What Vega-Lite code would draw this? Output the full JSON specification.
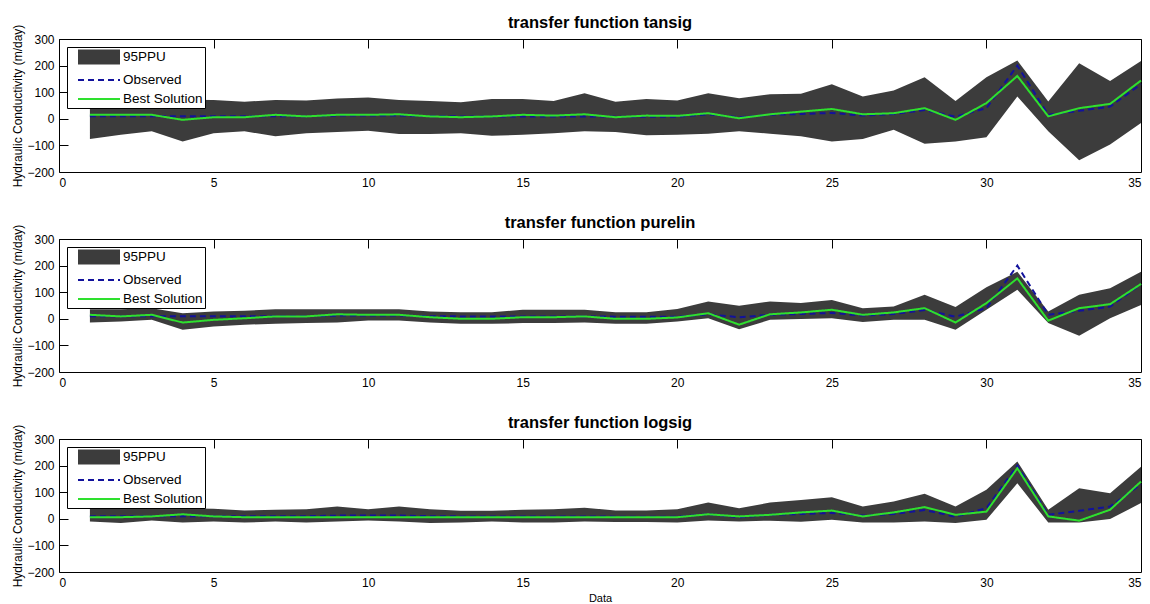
{
  "$schema": "https://vega.github.io/schema/vega-lite/v6.json",
  "background": "white",
  "padding": {"left": 11, "top": 14, "right": 4, "bottom": 0},
  "bounds": "flush",
  "spacing": 67,
  "config": {
    "font": "Liberation Sans",
    "view": {"stroke": "black", "strokeWidth": 1},
    "axis": {"grid": true, "gridColor": "black", "gridOpacity": 1, "gridWidth": 1, "gridDash": [9, 2000], "domain": false, "ticks": false, "tickSize": 0, "zindex": 0, "labelFontSize": 12, "labelColor": "black", "titleFontSize": 12, "titleFontWeight": "normal", "titleColor": "black", "labelPadding": 5, "titlePadding": 2},
    "title": {"fontSize": 16.5, "fontWeight": "bold", "color": "black", "offset": -7},
    "legend": {"orient": "top-left", "offset": 8, "strokeColor": "black", "fillColor": "white", "padding": 2, "labelFontSize": 13.5, "labelColor": "black", "symbolSize": 196, "symbolStrokeWidth": 2, "rowPadding": 4, "symbolOffset": 22, "labelOffset": 16, "cornerRadius": 0}
  },
  "datasets": {
    "d": [
      {"p":"tansig","x":1,"lo":-76,"hi":70,"obs":10,"best":15},
      {"p":"tansig","x":2,"lo":-60,"hi":68,"obs":10,"best":15},
      {"p":"tansig","x":3,"lo":-47,"hi":70,"obs":10,"best":15},
      {"p":"tansig","x":4,"lo":-85,"hi":72,"obs":10,"best":-4},
      {"p":"tansig","x":5,"lo":-54,"hi":71,"obs":10,"best":6},
      {"p":"tansig","x":6,"lo":-47,"hi":64,"obs":10,"best":6},
      {"p":"tansig","x":7,"lo":-66,"hi":71,"obs":10,"best":15},
      {"p":"tansig","x":8,"lo":-54,"hi":69,"obs":10,"best":9},
      {"p":"tansig","x":9,"lo":-50,"hi":76,"obs":12,"best":15},
      {"p":"tansig","x":10,"lo":-45,"hi":80,"obs":12,"best":15},
      {"p":"tansig","x":11,"lo":-57,"hi":71,"obs":12,"best":17},
      {"p":"tansig","x":12,"lo":-57,"hi":67,"obs":10,"best":9},
      {"p":"tansig","x":13,"lo":-54,"hi":62,"obs":9,"best":6},
      {"p":"tansig","x":14,"lo":-64,"hi":74,"obs":9,"best":9},
      {"p":"tansig","x":15,"lo":-60,"hi":74,"obs":9,"best":15},
      {"p":"tansig","x":16,"lo":-54,"hi":67,"obs":9,"best":12},
      {"p":"tansig","x":17,"lo":-47,"hi":96,"obs":9,"best":17},
      {"p":"tansig","x":18,"lo":-50,"hi":64,"obs":8,"best":6},
      {"p":"tansig","x":19,"lo":-62,"hi":74,"obs":8,"best":12},
      {"p":"tansig","x":20,"lo":-60,"hi":69,"obs":8,"best":11},
      {"p":"tansig","x":21,"lo":-56,"hi":96,"obs":17,"best":21},
      {"p":"tansig","x":22,"lo":-47,"hi":77,"obs":6,"best":2},
      {"p":"tansig","x":23,"lo":-56,"hi":92,"obs":15,"best":17},
      {"p":"tansig","x":24,"lo":-66,"hi":94,"obs":18,"best":27},
      {"p":"tansig","x":25,"lo":-85,"hi":130,"obs":22,"best":37},
      {"p":"tansig","x":26,"lo":-76,"hi":84,"obs":12,"best":17},
      {"p":"tansig","x":27,"lo":-41,"hi":106,"obs":18,"best":21},
      {"p":"tansig","x":28,"lo":-94,"hi":156,"obs":33,"best":40},
      {"p":"tansig","x":29,"lo":-85,"hi":67,"obs":8,"best":-4},
      {"p":"tansig","x":30,"lo":-69,"hi":156,"obs":40,"best":59},
      {"p":"tansig","x":31,"lo":84,"hi":219,"obs":200,"best":161},
      {"p":"tansig","x":32,"lo":-47,"hi":65,"obs":15,"best":9},
      {"p":"tansig","x":33,"lo":-156,"hi":209,"obs":30,"best":40},
      {"p":"tansig","x":34,"lo":-97,"hi":142,"obs":46,"best":56},
      {"p":"tansig","x":35,"lo":-16,"hi":217,"obs":130,"best":144},
      {"p":"purelin","x":1,"lo":-14,"hi":36,"obs":10,"best":15},
      {"p":"purelin","x":2,"lo":-10,"hi":36,"obs":10,"best":9},
      {"p":"purelin","x":3,"lo":-4,"hi":40,"obs":10,"best":15},
      {"p":"purelin","x":4,"lo":-41,"hi":21,"obs":10,"best":-14},
      {"p":"purelin","x":5,"lo":-29,"hi":27,"obs":10,"best":-4},
      {"p":"purelin","x":6,"lo":-22,"hi":30,"obs":10,"best":2},
      {"p":"purelin","x":7,"lo":-19,"hi":36,"obs":10,"best":9},
      {"p":"purelin","x":8,"lo":-16,"hi":36,"obs":10,"best":9},
      {"p":"purelin","x":9,"lo":-14,"hi":36,"obs":12,"best":17},
      {"p":"purelin","x":10,"lo":-6,"hi":36,"obs":12,"best":15},
      {"p":"purelin","x":11,"lo":-6,"hi":36,"obs":12,"best":15},
      {"p":"purelin","x":12,"lo":-14,"hi":27,"obs":10,"best":6},
      {"p":"purelin","x":13,"lo":-19,"hi":25,"obs":9,"best":0},
      {"p":"purelin","x":14,"lo":-19,"hi":25,"obs":9,"best":0},
      {"p":"purelin","x":15,"lo":-16,"hi":34,"obs":9,"best":6},
      {"p":"purelin","x":16,"lo":-16,"hi":34,"obs":9,"best":6},
      {"p":"purelin","x":17,"lo":-14,"hi":34,"obs":9,"best":9},
      {"p":"purelin","x":18,"lo":-19,"hi":25,"obs":8,"best":0},
      {"p":"purelin","x":19,"lo":-19,"hi":25,"obs":8,"best":0},
      {"p":"purelin","x":20,"lo":-10,"hi":37,"obs":8,"best":5},
      {"p":"purelin","x":21,"lo":2,"hi":65,"obs":17,"best":21},
      {"p":"purelin","x":22,"lo":-39,"hi":49,"obs":6,"best":-22},
      {"p":"purelin","x":23,"lo":-4,"hi":65,"obs":15,"best":17},
      {"p":"purelin","x":24,"lo":-1,"hi":59,"obs":18,"best":24},
      {"p":"purelin","x":25,"lo":2,"hi":71,"obs":22,"best":34},
      {"p":"purelin","x":26,"lo":-12,"hi":40,"obs":12,"best":15},
      {"p":"purelin","x":27,"lo":-4,"hi":46,"obs":18,"best":24},
      {"p":"purelin","x":28,"lo":-4,"hi":90,"obs":33,"best":40},
      {"p":"purelin","x":29,"lo":-41,"hi":44,"obs":8,"best":-14},
      {"p":"purelin","x":30,"lo":34,"hi":119,"obs":40,"best":59},
      {"p":"purelin","x":31,"lo":109,"hi":177,"obs":200,"best":152},
      {"p":"purelin","x":32,"lo":-16,"hi":27,"obs":15,"best":-7},
      {"p":"purelin","x":33,"lo":-64,"hi":90,"obs":30,"best":40},
      {"p":"purelin","x":34,"lo":2,"hi":115,"obs":46,"best":55},
      {"p":"purelin","x":35,"lo":52,"hi":177,"obs":130,"best":131},
      {"p":"logsig","x":1,"lo":-10,"hi":38,"obs":10,"best":6},
      {"p":"logsig","x":2,"lo":-16,"hi":40,"obs":10,"best":6},
      {"p":"logsig","x":3,"lo":-6,"hi":40,"obs":10,"best":9},
      {"p":"logsig","x":4,"lo":-14,"hi":40,"obs":10,"best":17},
      {"p":"logsig","x":5,"lo":-10,"hi":38,"obs":10,"best":9},
      {"p":"logsig","x":6,"lo":-14,"hi":31,"obs":10,"best":6},
      {"p":"logsig","x":7,"lo":-10,"hi":34,"obs":10,"best":6},
      {"p":"logsig","x":8,"lo":-14,"hi":36,"obs":10,"best":6},
      {"p":"logsig","x":9,"lo":-10,"hi":46,"obs":12,"best":6},
      {"p":"logsig","x":10,"lo":-6,"hi":36,"obs":12,"best":6},
      {"p":"logsig","x":11,"lo":-10,"hi":46,"obs":12,"best":6},
      {"p":"logsig","x":12,"lo":-16,"hi":36,"obs":10,"best":6},
      {"p":"logsig","x":13,"lo":-14,"hi":30,"obs":9,"best":6},
      {"p":"logsig","x":14,"lo":-10,"hi":30,"obs":9,"best":6},
      {"p":"logsig","x":15,"lo":-14,"hi":34,"obs":9,"best":6},
      {"p":"logsig","x":16,"lo":-14,"hi":36,"obs":9,"best":6},
      {"p":"logsig","x":17,"lo":-10,"hi":42,"obs":9,"best":6},
      {"p":"logsig","x":18,"lo":-12,"hi":31,"obs":8,"best":6},
      {"p":"logsig","x":19,"lo":-12,"hi":31,"obs":8,"best":6},
      {"p":"logsig","x":20,"lo":-14,"hi":36,"obs":8,"best":6},
      {"p":"logsig","x":21,"lo":-6,"hi":61,"obs":17,"best":17},
      {"p":"logsig","x":22,"lo":-10,"hi":40,"obs":6,"best":9},
      {"p":"logsig","x":23,"lo":-7,"hi":61,"obs":15,"best":15},
      {"p":"logsig","x":24,"lo":-11,"hi":71,"obs":18,"best":24},
      {"p":"logsig","x":25,"lo":-4,"hi":81,"obs":22,"best":31},
      {"p":"logsig","x":26,"lo":-14,"hi":46,"obs":12,"best":9},
      {"p":"logsig","x":27,"lo":-14,"hi":65,"obs":18,"best":24},
      {"p":"logsig","x":28,"lo":-10,"hi":94,"obs":33,"best":44},
      {"p":"logsig","x":29,"lo":-16,"hi":46,"obs":8,"best":15},
      {"p":"logsig","x":30,"lo":-4,"hi":109,"obs":40,"best":27},
      {"p":"logsig","x":31,"lo":134,"hi":215,"obs":200,"best":190},
      {"p":"logsig","x":32,"lo":-14,"hi":34,"obs":15,"best":9},
      {"p":"logsig","x":33,"lo":-14,"hi":115,"obs":30,"best":-7},
      {"p":"logsig","x":34,"lo":-1,"hi":96,"obs":46,"best":34},
      {"p":"logsig","x":35,"lo":59,"hi":196,"obs":130,"best":140}
    ]
  },
  "vconcat": [
    {
      "width": 1082, "height": 133,
      "title": "transfer function tansig",
      "data": {"name": "d"},
      "transform": [{"filter": "datum.p == 'tansig'"}],
      "resolve": {"axis": {"x": "independent", "y": "independent"}},
      "layer": [
        {"mark": {"type": "area", "fill": "#3c3c3c", "opacity": 1},
         "encoding": {
           "x": {"field": "x", "type": "quantitative", "scale": {"domain": [0, 35], "nice": false, "zero": false}, "axis": {"values": [0,5,10,15,20,25,30,35], "title": null}},
           "y": {"field": "hi", "type": "quantitative", "scale": {"domain": [-200, 300], "nice": false}, "axis": {"values": [-200,-100,0,100,200,300], "title": "Hydraulic Conductivity (m/day)"}},
           "y2": {"field": "lo"}}},
        {"transform": [{"fold": ["obs", "best"], "as": ["key", "value"]}],
         "mark": {"type": "line", "strokeWidth": 2},
         "encoding": {
           "x": {"field": "x", "type": "quantitative", "axis": {"orient": "top", "labels": false, "values": [0,5,10,15,20,25,30,35], "title": null}},
           "y": {"field": "value", "type": "quantitative", "axis": {"orient": "right", "labels": false, "values": [-200,-100,0,100,200,300], "title": null}},
           "strokeDash": {"field": "key", "type": "nominal", "scale": {"domain": ["obs", "best"], "range": [[6, 4], [1, 0]]}, "legend": null},
           "color": {"field": "key", "type": "nominal",
             "scale": {"domain": ["95PPU", "obs", "best"], "range": ["#3c3c3c", "#12129c", "#2ee02e"]},
             "legend": {"title": null,
               "labelExpr": "datum.label === 'obs' ? 'Observed' : (datum.label === 'best' ? 'Best Solution' : datum.label)",
               "encode": {"symbols": {"update": {
                 "shape": [{"test": "datum.value === '95PPU'", "value": "M-2.857,-0.93H2.857V0.93H-2.857Z"}, {"value": "M-3,0H3"}],
                 "fill": [{"test": "datum.value === '95PPU'", "value": "#3c3c3c"}, {"value": "transparent"}],
                 "stroke": [{"test": "datum.value === '95PPU'", "value": "#3c3c3c"}, {"test": "datum.value === 'obs'", "value": "#12129c"}, {"value": "#2ee02e"}],
                 "strokeDash": [{"test": "datum.value === 'obs'", "value": [6, 4]}, {"value": [1, 0]}],
                 "opacity": {"value": 1}}}}}}}}
      ]
    },
    {
      "width": 1082, "height": 133,
      "title": "transfer function purelin",
      "data": {"name": "d"},
      "transform": [{"filter": "datum.p == 'purelin'"}],
      "resolve": {"axis": {"x": "independent", "y": "independent"}},
      "layer": [
        {"mark": {"type": "area", "fill": "#3c3c3c", "opacity": 1},
         "encoding": {
           "x": {"field": "x", "type": "quantitative", "scale": {"domain": [0, 35], "nice": false, "zero": false}, "axis": {"values": [0,5,10,15,20,25,30,35], "title": null}},
           "y": {"field": "hi", "type": "quantitative", "scale": {"domain": [-200, 300], "nice": false}, "axis": {"values": [-200,-100,0,100,200,300], "title": "Hydraulic Conductivity (m/day)"}},
           "y2": {"field": "lo"}}},
        {"transform": [{"fold": ["obs", "best"], "as": ["key", "value"]}],
         "mark": {"type": "line", "strokeWidth": 2},
         "encoding": {
           "x": {"field": "x", "type": "quantitative", "axis": {"orient": "top", "labels": false, "values": [0,5,10,15,20,25,30,35], "title": null}},
           "y": {"field": "value", "type": "quantitative", "axis": {"orient": "right", "labels": false, "values": [-200,-100,0,100,200,300], "title": null}},
           "strokeDash": {"field": "key", "type": "nominal", "scale": {"domain": ["obs", "best"], "range": [[6, 4], [1, 0]]}, "legend": null},
           "color": {"field": "key", "type": "nominal",
             "scale": {"domain": ["95PPU", "obs", "best"], "range": ["#3c3c3c", "#12129c", "#2ee02e"]},
             "legend": {"title": null,
               "labelExpr": "datum.label === 'obs' ? 'Observed' : (datum.label === 'best' ? 'Best Solution' : datum.label)",
               "encode": {"symbols": {"update": {
                 "shape": [{"test": "datum.value === '95PPU'", "value": "M-2.857,-0.93H2.857V0.93H-2.857Z"}, {"value": "M-3,0H3"}],
                 "fill": [{"test": "datum.value === '95PPU'", "value": "#3c3c3c"}, {"value": "transparent"}],
                 "stroke": [{"test": "datum.value === '95PPU'", "value": "#3c3c3c"}, {"test": "datum.value === 'obs'", "value": "#12129c"}, {"value": "#2ee02e"}],
                 "strokeDash": [{"test": "datum.value === 'obs'", "value": [6, 4]}, {"value": [1, 0]}],
                 "opacity": {"value": 1}}}}}}}}
      ]
    },
    {
      "width": 1082, "height": 133,
      "title": "transfer function logsig",
      "data": {"name": "d"},
      "transform": [{"filter": "datum.p == 'logsig'"}],
      "resolve": {"axis": {"x": "independent", "y": "independent"}},
      "layer": [
        {"mark": {"type": "area", "fill": "#3c3c3c", "opacity": 1},
         "encoding": {
           "x": {"field": "x", "type": "quantitative", "scale": {"domain": [0, 35], "nice": false, "zero": false}, "axis": {"values": [0,5,10,15,20,25,30,35], "title": "Data", "titleFontSize": 11, "titlePadding": 4}},
           "y": {"field": "hi", "type": "quantitative", "scale": {"domain": [-200, 300], "nice": false}, "axis": {"values": [-200,-100,0,100,200,300], "title": "Hydraulic Conductivity (m/day)"}},
           "y2": {"field": "lo"}}},
        {"transform": [{"fold": ["obs", "best"], "as": ["key", "value"]}],
         "mark": {"type": "line", "strokeWidth": 2},
         "encoding": {
           "x": {"field": "x", "type": "quantitative", "axis": {"orient": "top", "labels": false, "values": [0,5,10,15,20,25,30,35], "title": null}},
           "y": {"field": "value", "type": "quantitative", "axis": {"orient": "right", "labels": false, "values": [-200,-100,0,100,200,300], "title": null}},
           "strokeDash": {"field": "key", "type": "nominal", "scale": {"domain": ["obs", "best"], "range": [[6, 4], [1, 0]]}, "legend": null},
           "color": {"field": "key", "type": "nominal",
             "scale": {"domain": ["95PPU", "obs", "best"], "range": ["#3c3c3c", "#12129c", "#2ee02e"]},
             "legend": {"title": null,
               "labelExpr": "datum.label === 'obs' ? 'Observed' : (datum.label === 'best' ? 'Best Solution' : datum.label)",
               "encode": {"symbols": {"update": {
                 "shape": [{"test": "datum.value === '95PPU'", "value": "M-2.857,-0.93H2.857V0.93H-2.857Z"}, {"value": "M-3,0H3"}],
                 "fill": [{"test": "datum.value === '95PPU'", "value": "#3c3c3c"}, {"value": "transparent"}],
                 "stroke": [{"test": "datum.value === '95PPU'", "value": "#3c3c3c"}, {"test": "datum.value === 'obs'", "value": "#12129c"}, {"value": "#2ee02e"}],
                 "strokeDash": [{"test": "datum.value === 'obs'", "value": [6, 4]}, {"value": [1, 0]}],
                 "opacity": {"value": 1}}}}}}}}
      ]
    }
  ],
  "resolve": {"scale": {"color": "independent", "strokeDash": "independent"}, "legend": {"color": "independent"}}
}
